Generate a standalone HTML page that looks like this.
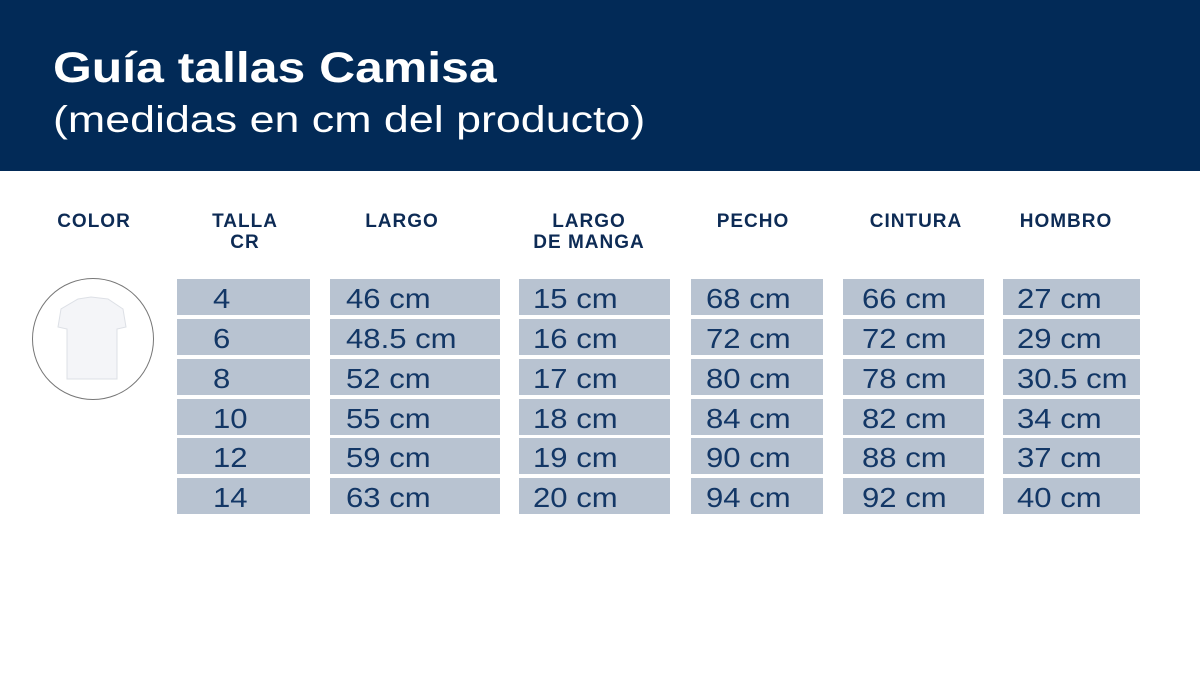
<!DOCTYPE html>
<html><head><meta charset="utf-8"><style>
body{margin:0;width:1200px;height:697px;background:#fff;position:relative;overflow:hidden;font-family:"Liberation Sans",sans-serif}
.hdr{position:absolute;left:0;top:0;width:1200px;height:171px;background:#022a57}
.t1{position:absolute;left:53px;top:44px;color:#fff;font-size:43px;font-weight:bold;transform:scaleX(1.16);transform-origin:0 0;white-space:nowrap}
.t2{position:absolute;left:53px;top:99px;color:#fff;font-size:37px;transform:scaleX(1.21);transform-origin:0 0;white-space:nowrap}
.ch{position:absolute;top:211px;color:#0d2b55;font-size:19px;font-weight:bold;text-align:center;line-height:21px;transform:translateX(-50%);white-space:nowrap;letter-spacing:1px}
.cell{position:absolute;height:36px;background:#b8c3d1;color:#133766;font-size:28px;line-height:40px;box-sizing:border-box;white-space:nowrap}
.cell span{display:inline-block;transform:scaleX(1.11);transform-origin:0 0}
.circ{position:absolute;left:32px;top:278px;width:122px;height:122px;border:1.5px solid #777;border-radius:50%;box-sizing:border-box;background:#fff}
</style></head><body>
<div class="hdr">
<div class="t1">Guía tallas Camisa</div>
<div class="t2">(medidas en cm del producto)</div>
</div>
<div class="ch" style="left:94px">COLOR</div>
<div class="ch" style="left:245px">TALLA<br>CR</div>
<div class="ch" style="left:402px">LARGO</div>
<div class="ch" style="left:589px">LARGO<br>DE MANGA</div>
<div class="ch" style="left:753px">PECHO</div>
<div class="ch" style="left:916px">CINTURA</div>
<div class="ch" style="left:1066px">HOMBRO</div>
<div class="circ">
<svg width="120" height="120" viewBox="0 0 120 120"><path d="M45 20 L58 18 L75 20 L90 30 L93 48 L84 50 L84 100 L34 100 L34 50 L25 48 L28 30 Z" fill="#f4f5f8" stroke="#dde0e6"/></svg>
</div>
<div id="tbl"></div>
<script>
const sizes=["4","6","8","10","12","14"];
const largo=["46 cm","48.5 cm","52 cm","55 cm","59 cm","63 cm"];
const manga=["15 cm","16 cm","17 cm","18 cm","19 cm","20 cm"];
const pecho=["68 cm","72 cm","80 cm","84 cm","90 cm","94 cm"];
const cintura=["66 cm","72 cm","78 cm","82 cm","88 cm","92 cm"];
const hombro=["27 cm","29 cm","30.5 cm","34 cm","37 cm","40 cm"];
const cols=[[sizes,177,133,36,"talla"],[largo,330,170,16,"largo"],[manga,519,151,14,"manga"],[pecho,691,132,15,"pecho"],[cintura,843,141,19,"cintura"],[hombro,1003,137,14,"hombro"]];
const tops=[279,319,359,399,438,478];
const tbl=document.getElementById('tbl');
cols.forEach(c=>{c[0].forEach((v,i)=>{
const d=document.createElement('div');d.className='cell';
d.style.left=c[1]+'px';d.style.top=tops[i]+'px';d.style.width=c[2]+'px';d.style.paddingLeft=c[3]+'px';
const s=document.createElement('span');s.textContent=v;d.appendChild(s);


tbl.appendChild(d);});});
</script>
</body></html>
